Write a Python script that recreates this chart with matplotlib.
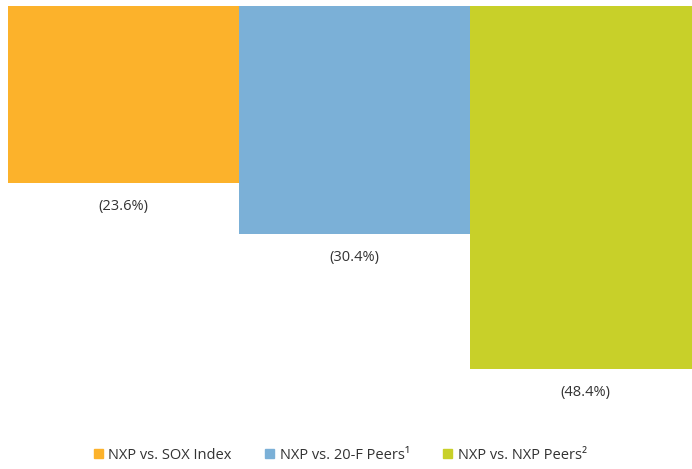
import matplotlib.pyplot as plt
from matplotlib.patches import Patch

# データ
categories = ['NXP vs. SOX Index', 'NXP vs. 20-F Peers¹', 'NXP vs. NXP Peers²']
values = [-23.6, -30.4, -48.4]
labels = ['(23.6%)', '(30.4%)', '(48.4%)']
colors = ['#FCB22B', '#7BB0D7', '#C8D029']

plt.rcParams['font.family'] = ['Open Sans', 'DejaVu Sans']

fig = plt.figure(figsize=(6.92, 4.69), dpi=100)
ax = fig.add_axes([8/692, 1 - 456/469, 693/692, 450/469])

x = range(len(values))
ax.bar(x, values, width=1.0, color=colors, bottom=0)
ax.set_xlim(-0.5, 2.5)
ax.set_ylim(-60, 0)

for i, v in enumerate(values):
    ax.annotate(labels[i], (i, v), xytext=(0, -17), textcoords='offset points',
                ha='center', va='center', fontsize=10.5, color='#333333')

ax.axis('off')

handles = [Patch(color=c) for c in colors]
fig.legend(handles, categories, loc='center', bbox_to_anchor=(0.492, 1 - 455/469),
           ncol=3, frameon=False, handlelength=0.6, handleheight=0.6,
           handletextpad=0.4, columnspacing=2.3, fontsize=10.5,
           labelcolor='#333333')

fig.savefig('out.png', dpi=100)
